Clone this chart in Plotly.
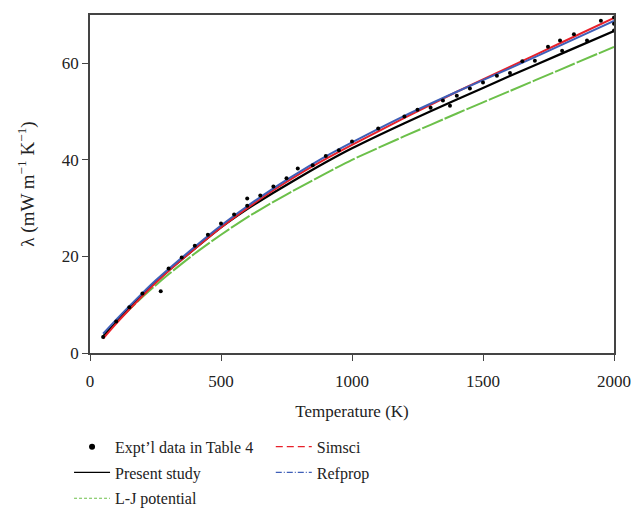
import plotly.graph_objects as go

# Temperatures (K) for the model curves
T = [50, 100, 150, 200, 250, 300, 400, 500, 600, 700, 800, 900, 1000,
     1200, 1400, 1600, 1800, 2000]

present = [3.4, 6.4, 9.3, 12.1, 14.7, 17.1, 21.6, 26.0, 29.8, 33.2, 36.4,
           39.5, 42.4, 47.6, 52.5, 57.3, 62.0, 66.7]
simsci = [3.0, 6.1, 9.0, 11.8, 14.5, 17.0, 21.6, 26.0, 30.0, 33.7, 37.1,
          40.2, 43.1, 48.7, 54.1, 59.2, 64.3, 69.4]
refprop = [4.0, 6.9, 9.7, 12.4, 15.0, 17.4, 22.0, 26.4, 30.4, 34.1, 37.5,
           40.7, 43.6, 49.1, 54.1, 58.9, 63.8, 68.8]
lj = [3.5, 6.3, 9.0, 11.6, 14.0, 16.3, 20.6, 24.5, 28.1, 31.3, 34.3,
      37.2, 40.0, 44.9, 49.6, 54.2, 58.8, 63.4]

# Experimental data (Table 4)
exp_T = [50, 100, 150, 200, 270, 300, 350, 400, 450, 500, 550, 600, 600,
         650, 700, 750, 793, 850, 900, 950, 1000, 1100, 1200, 1250, 1300,
         1347, 1374, 1400, 1450, 1500, 1553, 1603, 1650, 1698, 1748, 1794,
         1802, 1847, 1897, 1950, 2000, 2000, 2000]
exp_L = [3.3, 6.5, 9.5, 12.3, 12.8, 17.5, 19.8, 22.2, 24.5, 26.8, 28.7,
         32.0, 30.5, 32.6, 34.5, 36.2, 38.2, 38.9, 40.8, 42.0, 43.8, 46.5,
         49.0, 50.4, 50.8, 52.3, 51.2, 53.3, 54.8, 56.0, 57.4, 58.0, 60.4,
         60.5, 63.4, 64.7, 62.6, 66.0, 64.7, 68.8, 69.5, 66.8, 68.2]

BLACK = "#000000"
RED = "#e8202a"
BLUE = "#3f5fb8"
GREEN = "#6cc04a"
FONT = "Liberation Serif"

fig = go.Figure()

# plotted curves (no legend entries)
fig.add_trace(go.Scatter(x=T, y=lj, mode="lines", showlegend=False,
                         line=dict(color=GREEN, width=2, dash="22px,2px",
                                   shape="spline", smoothing=0.6)))
fig.add_trace(go.Scatter(x=T, y=present, mode="lines", showlegend=False,
                         line=dict(color=BLACK, width=2.2,
                                   shape="spline", smoothing=0.6)))
fig.add_trace(go.Scatter(x=T, y=simsci, mode="lines", showlegend=False,
                         line=dict(color=RED, width=2,
                                   shape="spline", smoothing=0.6)))
fig.add_trace(go.Scatter(x=T, y=refprop, mode="lines", showlegend=False,
                         line=dict(color=BLUE, width=2,
                                   shape="spline", smoothing=0.6)))
fig.add_trace(go.Scatter(x=exp_T, y=exp_L, mode="markers", showlegend=False,
                         marker=dict(color=BLACK, size=4)))

# legend entries: column 1 (legend) and column 2 (legend2)
fig.add_trace(go.Scatter(x=[None], y=[None], mode="markers",
                         name="Expt\u2019l data in Table 4", legend="legend",
                         legendgroup="a", marker=dict(color=BLACK, size=6)))
fig.add_trace(go.Scatter(x=[None], y=[None], mode="lines",
                         name="Present study", legend="legend",
                         legendgroup="b", line=dict(color=BLACK, width=1.3)))
fig.add_trace(go.Scatter(x=[None], y=[None], mode="lines",
                         name="L-J potential", legend="legend",
                         legendgroup="c",
                         line=dict(color=GREEN, width=1.2, dash="3px,2px")))
fig.add_trace(go.Scatter(x=[None], y=[None], mode="lines", name="Simsci",
                         legend="legend2", legendgroup="d",
                         line=dict(color=RED, width=1.2, dash="7px,4px")))
fig.add_trace(go.Scatter(x=[None], y=[None], mode="lines", name="Refprop",
                         legend="legend2", legendgroup="e",
                         line=dict(color=BLUE, width=1.2, dash="6px,2px,1px,2px")))

axis_common = dict(showline=True, linecolor="#444444", linewidth=1.5,
                   mirror=True, ticks="outside", ticklen=6, tickwidth=1.2,
                   tickcolor="#444444", showgrid=False, zeroline=False,
                   tickfont=dict(family=FONT, size=17, color="#222222"))

legend_common = dict(orientation="v", xanchor="left", yanchor="top",
                     y=-0.227, itemwidth=36, tracegroupgap=2,
                     traceorder="grouped",
                     font=dict(family=FONT, size=16, color="#222222"),
                     bgcolor="rgba(0,0,0,0)")

fig.update_layout(
    width=634, height=511,
    margin=dict(l=90, r=20, t=15, b=158, autoexpand=False),
    plot_bgcolor="white", paper_bgcolor="white",
    font=dict(family=FONT, size=16, color="#222222"),
    xaxis=dict(range=[0, 2000], tickvals=[0, 500, 1000, 1500, 2000],
               ticklabelstandoff=6,
               title=dict(text="Temperature (K)", standoff=15,
                          font=dict(family=FONT, size=17)),
               **axis_common),
    yaxis=dict(range=[0, 70], tickvals=[0, 20, 40, 60],
               title=dict(text="\u03bb (mW m<sup>\u22121</sup> K<sup>\u22121</sup>)",
                          standoff=22, font=dict(family=FONT, size=19)),
               **axis_common),
    legend=dict(x=-0.04, **legend_common),
    legend2=dict(x=0.345, **legend_common),
)

fig.write_html("out.html")
